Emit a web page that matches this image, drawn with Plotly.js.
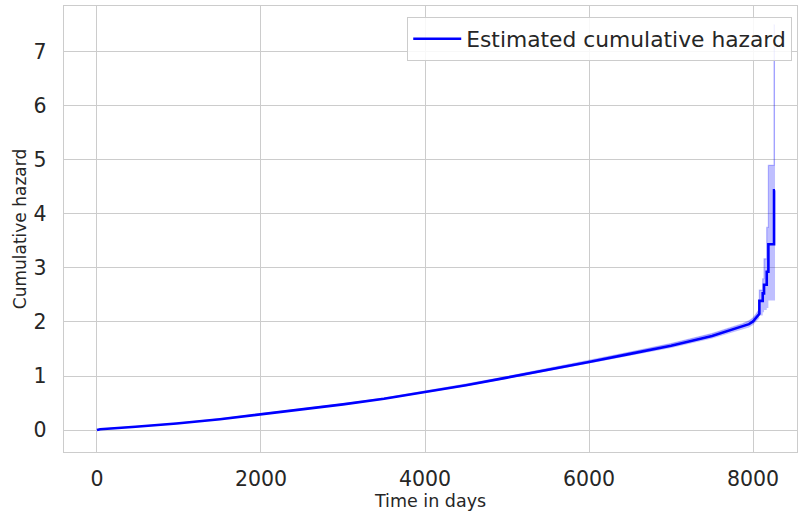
<!DOCTYPE html>
<html>
<head>
<meta charset="utf-8">
<script src="https://cdn.plot.ly/plotly-3.0.1.min.js"></script>
<style>html,body{margin:0;padding:0;background:#fff;}#chart{width:798px;height:513px;}</style>
</head>
<body>
<div id="chart"></div>
<script>
// Time in days (duplicated times mark the steps of the estimate near the end)
const timeDays = [0, 40, 470, 970, 1500, 2000, 2500, 3000, 3500, 4000, 4500, 5000, 5500, 6000, 6500, 7000, 7500, 7760, 7870, 7950, 8000, 8030, 8077, 8077, 8118, 8118, 8134, 8134, 8167, 8167, 8187, 8187, 8256, 8256, 8268];
// Estimated cumulative hazard
const cumHazard = [0, 0.015, 0.06, 0.12, 0.20, 0.29, 0.375, 0.475, 0.58, 0.70, 0.83, 0.97, 1.11, 1.26, 1.41, 1.56, 1.74, 1.86, 1.91, 1.96, 2.01, 2.06, 2.15, 2.39, 2.39, 2.53, 2.53, 2.69, 2.69, 2.93, 2.93, 3.44, 3.44, 4.44, 4.44];
// Confidence band
const upperCI = [0, 0.017, 0.064, 0.125, 0.206, 0.297, 0.384, 0.486, 0.593, 0.715, 0.848, 0.99, 1.135, 1.288, 1.443, 1.60, 1.785, 1.91, 1.965, 2.02, 2.075, 2.13, 2.24, 2.59, 2.59, 2.80, 2.80, 3.17, 3.17, 3.75, 3.75, 4.90, 4.90, 7.50, 7.50];
const lowerCI = [0, 0.013, 0.056, 0.115, 0.194, 0.283, 0.366, 0.464, 0.567, 0.685, 0.812, 0.95, 1.085, 1.232, 1.377, 1.52, 1.695, 1.81, 1.855, 1.90, 1.945, 1.99, 2.07, 2.12, 2.12, 2.18, 2.18, 2.22, 2.22, 2.26, 2.26, 2.40, 2.40, 2.40, 2.40];

const seriesName = 'Estimated cumulative hazard';
const xTicks = [0, 2000, 4000, 6000, 8000];
const yTicks = [0, 1, 2, 3, 4, 5, 6, 7];

const textColor = '#262626';
const gridColor = '#cccccc';

const traces = [
  {x: timeDays, y: lowerCI, mode: 'lines', line: {width: 0, color: 'rgba(0,0,255,0)'}, showlegend: false, hoverinfo: 'skip'},
  {x: timeDays, y: upperCI, mode: 'lines', line: {width: 0, color: 'rgba(0,0,255,0)'}, fill: 'tonexty', fillcolor: 'rgba(0,0,255,0.25)', showlegend: false, hoverinfo: 'skip'},
  {x: timeDays, y: upperCI, mode: 'lines', line: {width: 1.2, color: 'rgba(0,0,255,0.25)'}, showlegend: false, hoverinfo: 'skip'},
  {x: timeDays, y: cumHazard, mode: 'lines', name: seriesName, line: {width: 2.6, color: '#0000ff'}}
];

const layout = {
  width: 798, height: 513,
  margin: {l: 64, r: 1, t: 6, b: 61},
  paper_bgcolor: '#ffffff', plot_bgcolor: '#ffffff',
  font: {family: 'DejaVu Sans, sans-serif', color: textColor},
  xaxis: {
    range: [-402, 8536], tickvals: xTicks, ticktext: xTicks.map(String),
    showgrid: true, gridcolor: gridColor, gridwidth: 1,
    zeroline: false, showline: true, mirror: true, linecolor: gridColor, linewidth: 1.3,
    ticks: 'outside', ticklen: 8, tickcolor: 'rgba(0,0,0,0)',
    tickfont: {size: 20.5, color: textColor},
    title: {text: 'Time in days', font: {size: 17.5, color: textColor}, standoff: 0}
  },
  yaxis: {
    range: [-0.407, 7.85], tickvals: yTicks, ticktext: yTicks.map(String),
    showgrid: true, gridcolor: gridColor, gridwidth: 1,
    zeroline: false, showline: true, mirror: true, linecolor: gridColor, linewidth: 1.3,
    ticks: 'outside', ticklen: 12, tickcolor: 'rgba(0,0,0,0)',
    tickfont: {size: 20.5, color: textColor},
    title: {text: 'Cumulative hazard', font: {size: 17, color: textColor}, standoff: 2}
  },
  showlegend: true,
  legend: {
    x: 0.9935, y: 0.975, xanchor: 'right', yanchor: 'top',
    bgcolor: 'rgba(255,255,255,0.85)', bordercolor: gridColor, borderwidth: 1,
    font: {size: 21.8, color: textColor},
    itemwidth: 48
  }
};

Plotly.newPlot('chart', traces, layout, {displayModeBar: false, staticPlot: true});
</script>
</body>
</html>
